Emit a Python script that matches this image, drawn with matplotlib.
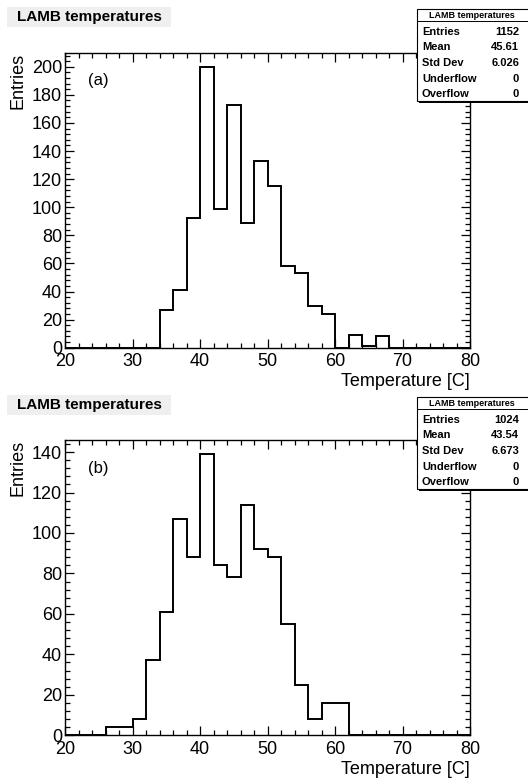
import numpy as np
import matplotlib
matplotlib.use('Agg')
import matplotlib.pyplot as plt
from matplotlib.patches import Rectangle
from matplotlib.ticker import MultipleLocator

plt.rcParams['font.family'] = ['Liberation Sans', 'DejaVu Sans']

# 2 degree bins from 20 to 80 C
bin_edges = np.arange(20, 81, 2)

# (a) counts per bin
counts_a = [0, 0, 0, 0, 0, 0, 0, 27, 41, 92, 200, 99, 173, 89, 133,
            115, 58, 53, 30, 24, 0, 9, 1, 8, 0, 0, 0, 0, 0, 0]
stats_a = [('Entries', '1152'), ('Mean', '45.61'), ('Std Dev', '6.026'),
           ('Underflow', '0'), ('Overflow', '0')]

# (b) counts per bin
counts_b = [0, 0, 0, 4, 4, 8, 37, 61, 107, 88, 139, 84, 78, 114, 92,
            88, 55, 25, 8, 16, 16, 0, 0, 0, 0, 0, 0, 0, 0, 0]
stats_b = [('Entries', '1024'), ('Mean', '43.54'), ('Std Dev', '6.673'),
           ('Underflow', '0'), ('Overflow', '0')]

W, H = 528, 779
fig = plt.figure(figsize=(W / 100, H / 100), dpi=100)


def px(x, y):
    # pixel (from top-left) -> figure fraction
    return x / W, 1 - y / H


def draw_panel(counts, stats, tag, ax_top, ax_bot, box_top):
    x0, y0 = px(65, ax_bot)
    ax = fig.add_axes([x0, y0, 405 / W, (ax_bot - ax_top) / H])
    ax.stairs(counts, bin_edges, color='black', linewidth=1.4)
    ax.set_xlim(20, 80)
    ax.set_ylim(0, max(counts) * 1.05)
    ax.xaxis.set_major_locator(MultipleLocator(10))
    ax.xaxis.set_minor_locator(MultipleLocator(2))
    ax.yaxis.set_major_locator(MultipleLocator(20))
    ax.yaxis.set_minor_locator(MultipleLocator(4))
    ax.tick_params(which='both', direction='in', top=True, right=True,
                   labelsize=13, width=0.9)
    ax.tick_params(which='major', length=6.5)
    ax.tick_params(which='minor', length=3.5)
    ax.tick_params(axis='x', which='major', pad=4)
    ax.tick_params(axis='y', which='major', pad=2)
    for s in ax.spines.values():
        s.set_linewidth(1.0)
    ax.set_xlabel('Temperature [C]', fontsize=13, loc='right', labelpad=2)
    ax.set_ylabel('Entries', fontsize=13, loc='top', labelpad=4)
    ax.text(0.057, 0.905, tag, transform=ax.transAxes, fontsize=12,
            va='center', ha='left')

    # title pad
    tx, ty = px(7, box_top + 19)
    fig.patches.append(Rectangle((tx, ty), 164 / W, 20 / H, transform=fig.transFigure,
                                 facecolor='#efefef', edgecolor='none'))
    fig.text(17 / W, 1 - (box_top + 9.5) / H, 'LAMB temperatures', fontsize=11,
             fontweight='bold', va='center', ha='left')

    # stats box
    bt = box_top + 1
    bh = 92
    sx, sy = px(417, bt + bh)
    fig.patches.append(Rectangle((sx + 2 / W, sy - 2 / H), 120 / W, bh / H,
                                 transform=fig.transFigure, facecolor='black',
                                 edgecolor='none', zorder=5))
    fig.patches.append(Rectangle((sx, sy), 120 / W, bh / H, transform=fig.transFigure,
                                 facecolor='white', edgecolor='black', linewidth=0.8,
                                 zorder=6))
    lx, ly = px(417, bt + 12)
    fig.add_artist(plt.Line2D([lx, 1], [ly, ly], transform=fig.transFigure,
                              color='black', linewidth=0.7, zorder=7))
    fig.text(472 / W, 1 - (bt + 6) / H, 'LAMB temperatures', fontsize=6.5,
             fontweight='bold', ha='center', va='center', zorder=8)
    for i, (name, val) in enumerate(stats):
        yy = 1 - (bt + 23 + i * 15.5) / H
        fig.text(422 / W, yy, name, fontsize=8, fontweight='bold',
                 ha='left', va='center', zorder=8)
        fig.text(519 / W, yy, val, fontsize=8, fontweight='bold',
                 ha='right', va='center', zorder=8)
    return ax


draw_panel(counts_a, stats_a, '(a)', 52.7, 347.7, 8)
draw_panel(counts_b, stats_b, '(b)', 440.0, 735.3, 396)

fig.savefig('out.png', dpi=100)
